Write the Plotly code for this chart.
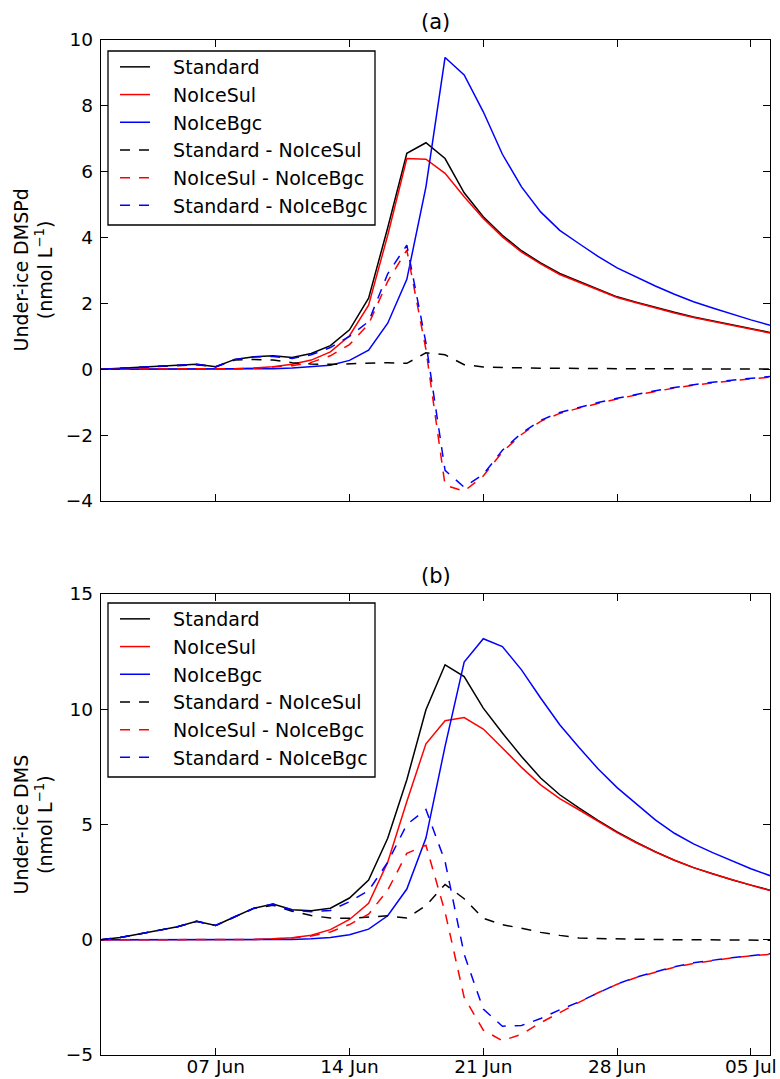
import plotly.graph_objects as go
import pandas as pd

# ---- data (daily, 01 Jun .. 06 Jul) ----
dates = pd.date_range("2015-06-01", "2015-07-06", freq="D")

series_names = ["Standard", "NoIceSul", "NoIceBgc",
                "Standard - NoIceSul", "NoIceSul - NoIceBgc", "Standard - NoIceBgc"]

# Panel (a): Under-ice DMSPd (nmol L-1)
std_a = [0.00, 0.03, 0.06, 0.08, 0.11, 0.15, 0.08, 0.30, 0.38, 0.41, 0.36, 0.48,
         0.72, 1.20, 2.16, 4.30, 6.56, 6.88, 6.40, 5.36, 4.63, 4.07, 3.60, 3.23,
         2.91, 2.67, 2.42, 2.20, 2.04, 1.88, 1.73, 1.59, 1.47, 1.34, 1.23, 1.12]
sul_a = [0.00, 0.00, 0.00, 0.00, 0.00, 0.01, 0.01, 0.02, 0.04, 0.08, 0.15, 0.28,
         0.53, 1.02, 1.95, 4.07, 6.40, 6.38, 5.95, 5.24, 4.58, 4.02, 3.56, 3.20,
         2.88, 2.64, 2.40, 2.18, 2.02, 1.86, 1.71, 1.57, 1.45, 1.32, 1.21, 1.10]
bgc_a = [0.00, 0.00, 0.00, 0.00, 0.00, 0.00, 0.00, 0.00, 0.01, 0.02, 0.04, 0.07,
         0.12, 0.27, 0.58, 1.40, 2.73, 5.54, 9.47, 8.94, 7.82, 6.53, 5.54, 4.78,
         4.22, 3.82, 3.43, 3.08, 2.80, 2.53, 2.28, 2.05, 1.86, 1.67, 1.50, 1.34]
d_std_sul_a = [0.00, 0.03, 0.06, 0.08, 0.11, 0.14, 0.07, 0.28, 0.30, 0.28, 0.20, 0.16,
               0.15, 0.16, 0.18, 0.20, 0.18, 0.50, 0.44, 0.14, 0.07, 0.05, 0.04, 0.03,
               0.03, 0.02, 0.02, 0.02, 0.02, 0.01, 0.01, 0.01, 0.01, 0.01, 0.01, 0.01]
d_sul_bgc_a = [0.00, 0.00, 0.00, 0.00, 0.00, 0.01, 0.01, 0.02, 0.03, 0.06, 0.11, 0.21,
               0.41, 0.75, 1.37, 2.67, 3.62, 0.60, -3.52, -3.70, -3.24, -2.51, -1.98, -1.58,
               -1.34, -1.18, -1.03, -0.90, -0.78, -0.67, -0.57, -0.48, -0.41, -0.35, -0.29, -0.24]
d_std_bgc_a = [0.00, 0.03, 0.06, 0.08, 0.11, 0.15, 0.08, 0.30, 0.37, 0.39, 0.33, 0.44,
               0.66, 1.00, 1.45, 2.90, 3.77, 0.80, -3.07, -3.58, -3.19, -2.46, -1.94, -1.55,
               -1.31, -1.15, -1.01, -0.88, -0.76, -0.65, -0.55, -0.46, -0.39, -0.33, -0.27, -0.22]

# Panel (b): Under-ice DMS (nmol L-1)
std_b = [0.00, 0.10, 0.25, 0.42, 0.56, 0.80, 0.62, 1.00, 1.37, 1.55, 1.30, 1.26,
         1.37, 1.81, 2.59, 4.40, 6.94, 9.98, 11.93, 11.42, 10.05, 8.97, 7.95, 7.02,
         6.29, 5.72, 5.18, 4.68, 4.23, 3.82, 3.45, 3.13, 2.85, 2.60, 2.37, 2.15]
sul_b = [0.00, 0.00, 0.00, 0.00, 0.00, 0.00, 0.00, 0.01, 0.01, 0.04, 0.09, 0.20,
         0.44, 0.88, 1.58, 3.36, 6.00, 8.50, 9.50, 9.64, 9.14, 8.32, 7.48, 6.72,
         6.12, 5.64, 5.13, 4.65, 4.21, 3.81, 3.45, 3.13, 2.85, 2.60, 2.37, 2.13]
bgc_b = [0.00, 0.00, 0.00, 0.00, 0.00, 0.00, 0.00, 0.00, 0.00, 0.00, 0.01, 0.04,
         0.10, 0.22, 0.46, 1.04, 2.20, 4.41, 8.39, 12.05, 13.06, 12.72, 11.71, 10.49,
         9.33, 8.35, 7.42, 6.60, 5.88, 5.20, 4.62, 4.16, 3.78, 3.42, 3.08, 2.78]
d_std_sul_b = [0.00, 0.10, 0.25, 0.42, 0.56, 0.80, 0.62, 0.99, 1.36, 1.50, 1.24, 1.05,
               0.94, 0.93, 0.99, 1.04, 0.94, 1.48, 2.40, 1.78, 0.93, 0.65, 0.50, 0.32,
               0.19, 0.08, 0.05, 0.03, 0.02, 0.01, 0.00, 0.00, -0.01, -0.01, -0.02, -0.02]
d_sul_bgc_b = [0.00, 0.00, 0.00, 0.00, 0.00, 0.00, 0.00, 0.01, 0.01, 0.04, 0.08, 0.16,
               0.34, 0.66, 1.11, 2.15, 3.75, 4.10, 1.20, -2.50, -3.92, -4.38, -4.10, -3.60,
               -3.15, -2.72, -2.30, -1.93, -1.64, -1.40, -1.19, -1.03, -0.90, -0.79, -0.70, -0.63]
d_std_bgc_b = [0.00, 0.10, 0.25, 0.42, 0.56, 0.80, 0.62, 1.00, 1.37, 1.55, 1.29, 1.22,
               1.27, 1.65, 2.13, 3.36, 5.00, 5.65, 3.40, -0.63, -3.01, -3.75, -3.72, -3.42,
               -3.04, -2.70, -2.30, -1.92, -1.62, -1.38, -1.17, -1.00, -0.88, -0.78, -0.69, -0.61]

panel_a = [std_a, sul_a, bgc_a, d_std_sul_a, d_sul_bgc_a, d_std_bgc_a]
panel_b = [std_b, sul_b, bgc_b, d_std_sul_b, d_sul_bgc_b, d_std_bgc_b]
colors = ["black", "red", "blue", "black", "red", "blue"]
dashes = ["solid", "solid", "solid", "10px,9px", "10px,9px", "10px,9px"]

yticks_a = [-4, -2, 0, 2, 4, 6, 8, 10]
yticks_b = [-5, 0, 5, 10, 15]
xtick_dates = ["2015-06-07", "2015-06-14", "2015-06-21", "2015-06-28", "2015-07-05"]
xtick_labels = ["07 Jun", "14 Jun", "21 Jun", "28 Jun", "05 Jul"]

W, H = 780, 1079
FONT = "DejaVu Sans"
PAD = "\u00a0\u00a0\u00a0"

fig = go.Figure()
for i, (vals, nm, c, d) in enumerate(zip(panel_a, series_names, colors, dashes)):
    fig.add_trace(go.Scatter(x=dates, y=vals, mode="lines", name=PAD + nm,
                             line=dict(color=c, width=1.5, dash=d),
                             legendgroup="a%d" % i,
                             xaxis="x", yaxis="y", legend="legend"))
for i, (vals, nm, c, d) in enumerate(zip(panel_b, series_names, colors, dashes)):
    fig.add_trace(go.Scatter(x=dates, y=vals, mode="lines", name=PAD + nm,
                             line=dict(color=c, width=1.5, dash=d),
                             legendgroup="b%d" % i,
                             xaxis="x2", yaxis="y2", legend="legend2"))

xdom = [101 / W, 770 / W]
ydom_a = [1 - 501 / H, 1 - 40 / H]
ydom_b = [1 - 1055 / H, 1 - 594 / H]

common_ax = dict(showline=True, linecolor="black", linewidth=1.3, mirror="allticks",
                 ticks="inside", ticklen=7, tickwidth=1.2, tickcolor="black",
                 showgrid=False, zeroline=False, automargin=False,
                 tickfont=dict(family=FONT, size=18.5, color="black"))

legend_common = dict(xanchor="left", yanchor="top", borderwidth=0,
                     bgcolor="rgba(0,0,0,0)", tracegroupgap=0,
                     font=dict(family=FONT, size=19, color="black"), itemwidth=30)

xr = ["2015-06-01", "2015-07-06"]
fig.update_layout(
    width=W, height=H, margin=dict(l=0, r=0, t=0, b=0, autoexpand=False),
    paper_bgcolor="white", plot_bgcolor="white",
    font=dict(family=FONT, color="black"),
    xaxis=dict(domain=xdom, anchor="y", range=xr, tickmode="array",
               tickvals=xtick_dates, ticktext=xtick_labels, showticklabels=False,
               **common_ax),
    yaxis=dict(domain=ydom_a, anchor="x", range=[-4, 10], tickmode="array",
               tickvals=yticks_a, ticklabelstandoff=3, **common_ax),
    xaxis2=dict(domain=xdom, anchor="y2", range=xr, tickmode="array",
                tickvals=xtick_dates, ticktext=xtick_labels, ticklabelstandoff=-5,
                **common_ax),
    yaxis2=dict(domain=ydom_b, anchor="x2", range=[-5, 15], tickmode="array",
                tickvals=yticks_b, ticklabelstandoff=3, **common_ax),
    legend=dict(x=115 / W, y=1 - 48 / H, **legend_common),
    legend2=dict(x=115 / W, y=1 - 600 / H, **legend_common),
    showlegend=True,
)

# legend frames (matplotlib-style boxes)
for top, bot in [(51, 225), (603, 777)]:
    fig.add_shape(type="rect", xref="paper", yref="paper",
                  x0=108 / W, x1=375 / W, y0=1 - bot / H, y1=1 - top / H,
                  line=dict(color="black", width=1.3), fillcolor="white", layer="below")

cx = (xdom[0] + xdom[1]) / 2
fig.add_annotation(text="(a)", x=cx, y=1 - 36 / H, xref="paper", yref="paper",
                   xanchor="center", yanchor="bottom", showarrow=False,
                   font=dict(family=FONT, size=21, color="black"))
fig.add_annotation(text="(b)", x=cx, y=1 - 590 / H, xref="paper", yref="paper",
                   xanchor="center", yanchor="bottom", showarrow=False,
                   font=dict(family=FONT, size=21, color="black"))
fig.add_annotation(text="Under-ice DMSPd<br>(nmol L<sup>\u22121</sup>)",
                   x=33 / W, y=(ydom_a[0] + ydom_a[1]) / 2, xref="paper", yref="paper",
                   xanchor="center", yanchor="middle", textangle=-90, showarrow=False,
                   font=dict(family=FONT, size=19, color="black"))
fig.add_annotation(text="Under-ice DMS<br>(nmol L<sup>\u22121</sup>)",
                   x=33 / W, y=(ydom_b[0] + ydom_b[1]) / 2, xref="paper", yref="paper",
                   xanchor="center", yanchor="middle", textangle=-90, showarrow=False,
                   font=dict(family=FONT, size=19, color="black"))

fig.write_html("out.html")
